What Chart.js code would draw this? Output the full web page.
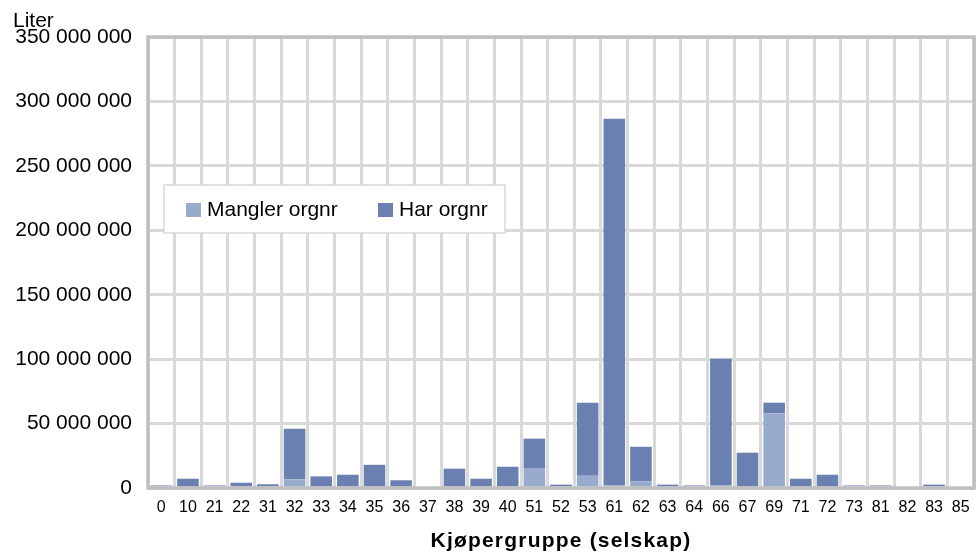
<!DOCTYPE html>
<html>
<head>
<meta charset="utf-8">
<script src="https://cdn.jsdelivr.net/npm/chart.js@4/dist/chart.umd.min.js"></script>
<style>
  html, body { margin: 0; padding: 0; background: #fff; }
  #wrap { width: 980px; height: 556px; }
</style>
</head>
<body>
<div id="wrap"><canvas id="chart" width="980" height="556"></canvas></div>
<script>
const categories = ['0', '10', '21', '22', '31', '32', '33', '34', '35', '36', '37', '38', '39', '40', '51', '52', '53',
  '61', '62', '63', '64', '66', '67', '69', '71', '72', '73', '81', '82', '83', '85'];

// liter (millions)
const manglerOrgnr = [2.2, 0, 2.2, 0, 0, 6.5, 0, 0, 0, 0, 0, 0, 0, 0, 15.5, 0, 9.5,
  2, 5.2, 0, 2.2, 2, 0, 58, 0, 0, 2.2, 2.2, 0, 0, 0];
const harOrgnr = [0, 7.2, 0, 4.1, 2.9, 39.5, 9, 10.3, 18, 6, 0, 15, 7.2, 16.5, 22.8, 2.6, 56.7,
  284.5, 26.8, 2.6, 0, 98.3, 27.4, 8.2, 7.2, 10.3, 0, 0, 0, 2.6, 0];

const yTicks = [0, 50, 100, 150, 200, 250, 300, 350];

const LIGHT = '#99abcd';
const DARK = '#6a80b0';
const GRID = '#d9d9d9';
const FRAME = '#bfbfbf';
const FONT = '"Liberation Sans", Arial, sans-serif';

Chart.defaults.font.family = FONT;
Chart.defaults.color = '#000';

const fmt = (v) => String(Math.round(v)).replace(/\B(?=(\d{3})+(?!\d))/g, ' ');

const framePlugin = {
  id: 'frame',
  afterDatasetsDraw(chart) {
    const { ctx, chartArea: a } = chart;
    ctx.save();
    ctx.strokeStyle = FRAME;
    ctx.lineWidth = 3.5;
    ctx.strokeRect(a.left, a.top, a.right - a.left, a.bottom - a.top);

    // legend box inside the plot
    const bx = a.left + 16, by = a.top + 148, bw = 341, bh = 48;
    ctx.fillStyle = '#fff';
    ctx.fillRect(bx, by, bw, bh);
    ctx.strokeStyle = GRID;
    ctx.lineWidth = 1.5;
    ctx.strokeRect(bx, by, bw, bh);
    ctx.font = '21px ' + FONT;
    ctx.textBaseline = 'middle';
    ctx.textAlign = 'left';
    const offs = [22, 214];
    chart.data.datasets.forEach((ds, i) => {
      const x = bx + offs[i];
      ctx.fillStyle = ds.backgroundColor;
      ctx.fillRect(x, by + 18, 15, 14);
      ctx.fillStyle = '#000';
      ctx.fillText(ds.label, x + 21, by + 25);
    });

    // unit label top left
    ctx.textBaseline = 'alphabetic';
    ctx.fillText('Liter', 13, 27);

    // x axis title, slightly spaced like the original
    ctx.font = 'bold 21px ' + FONT;
    ctx.textAlign = 'center';
    ctx.textBaseline = 'middle';
    if ('letterSpacing' in ctx) ctx.letterSpacing = '1.2px';
    ctx.fillText('Kjøpergruppe (selskap)', (a.left + a.right) / 2, 541);
    ctx.restore();
  }
};

new Chart(document.getElementById('chart'), {
  type: 'bar',
  data: {
    labels: categories,
    datasets: [
      { label: 'Mangler orgnr', data: manglerOrgnr.map(v => v * 1e6), backgroundColor: LIGHT },
      { label: 'Har orgnr', data: harOrgnr.map(v => v * 1e6), backgroundColor: DARK }
    ]
  },
  options: {
    responsive: false,
    animation: false,
    layout: { padding: { top: 37, right: 6, left: 0, bottom: 0 } },
    categoryPercentage: 1,
    barPercentage: 0.81,
    plugins: { legend: { display: false }, tooltip: { enabled: false } },
    scales: {
      x: {
        stacked: true,
        grid: { color: GRID, lineWidth: 3, drawTicks: false },
        border: { display: false },
        ticks: { autoSkip: false, maxRotation: 0, padding: 10, font: { size: 16 } },
        afterFit(axis) { axis.height = 68; }
      },
      y: {
        stacked: true,
        min: 0,
        max: 350e6,
        grid: { color: GRID, lineWidth: 3, drawTicks: false },
        border: { display: false },
        afterBuildTicks(axis) { axis.ticks = yTicks.map(v => ({ value: v * 1e6 })); },
        ticks: { padding: 16, font: { size: 21 }, callback: (v) => fmt(v) },
        afterFit(axis) { axis.width = 148; }
      }
    }
  },
  plugins: [framePlugin]
});
</script>
</body>
</html>
